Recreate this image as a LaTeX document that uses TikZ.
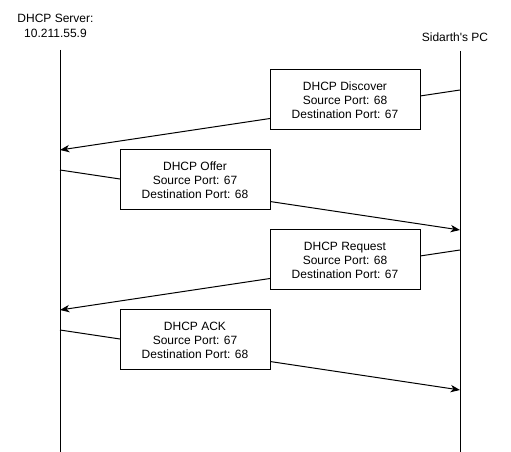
\documentclass[tikz,border=0pt]{standalone}
\usepackage{fontspec}
\setmainfont{Liberation Sans}
\usetikzlibrary{arrows.meta}
\begin{document}
\begin{tikzpicture}[x=0.75pt,y=-0.75pt,
  msgbox/.style={draw,fill=white,line width=0.75pt,minimum width=112.5pt,minimum height=45pt,inner sep=0pt,align=center,font=\fontsize{9}{10.5}\selectfont},
  lifeline/.style={line width=0.75pt},
  msg/.style={line width=0.75pt,-{Stealth[length=7pt,width=5.5pt,inset=2pt]}},
  lbl/.style={align=center,inner sep=0pt,font=\fontsize{9}{11}\selectfont}]
\useasboundingbox (0,0) rectangle (511,452);
\node[lbl] (srv) at (55.5,26) {DHCP Server:\\10.211.55.9};
\node[lbl] (pc) at (455,37) {Sidarth\textquotesingle s PC};
\coordinate (lt) at (60,50);
\coordinate (lb) at (60,452);
\coordinate (rt) at (460,51);
\coordinate (rb) at (460,452);
\draw[lifeline] (lt) -- (lb);
\draw[lifeline] (rt) -- (rb);
\coordinate (d1) at (460,90);  \coordinate (d2) at (60,150);
\coordinate (o1) at (60,170);  \coordinate (o2) at (460,230);
\coordinate (q1) at (460,250); \coordinate (q2) at (60,310);
\coordinate (a1) at (60,330);  \coordinate (a2) at (460,390);
\draw[msg] (d1) -- (d2);
\draw[msg] (o1) -- (o2);
\draw[msg] (q1) -- (q2);
\draw[msg] (a1) -- (a2);
\node[msgbox] (disc) at (345,100) {DHCP Discover\\Source Port: 68\\Destination Port: 67};
\node[msgbox] (offer) at (195,180) {DHCP Offer\\Source Port: 67\\Destination Port: 68};
\node[msgbox] (req) at (345,260) {DHCP Request\\Source Port: 68\\Destination Port: 67};
\node[msgbox] (ack) at (195,340) {DHCP ACK\\Source Port: 67\\Destination Port: 68};
\end{tikzpicture}
\end{document}
